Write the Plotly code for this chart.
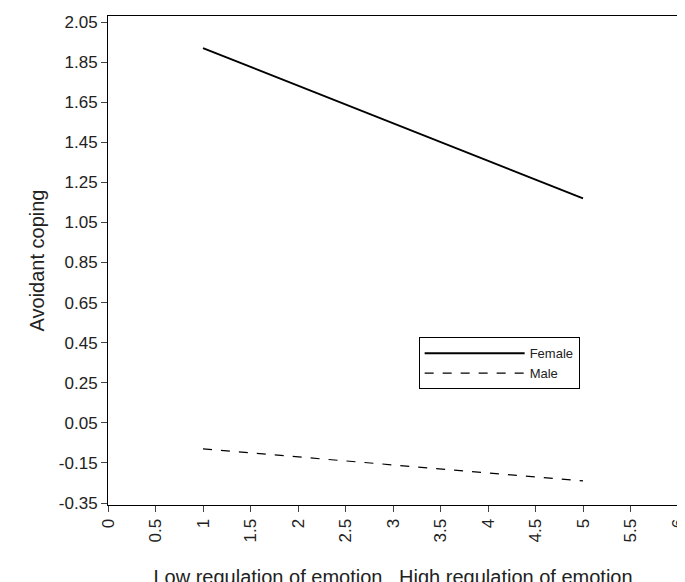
import plotly.graph_objects as go

x_vals = [1, 5]
female = [1.92, 1.17]
male = [-0.08, -0.24]
y_ticks = [-0.35 + 0.2 * i for i in range(13)]
x_ticks = [0, 0.5, 1, 1.5, 2, 2.5, 3, 3.5, 4, 4.5, 5, 5.5, 6]

fig = go.Figure()
fig.add_trace(go.Scatter(x=x_vals, y=female, mode="lines", name="Female",
                         line=dict(color="black", width=2)))
fig.add_trace(go.Scatter(x=x_vals, y=male, mode="lines", name="Male",
                         line=dict(color="black", width=1.2, dash="dash")))

fig.update_layout(
    width=685, height=582,
    margin=dict(l=100, r=10, t=5, b=85),
    paper_bgcolor="white", plot_bgcolor="white",
    font=dict(family="Liberation Sans, Arial", size=17, color="#222"),
    showlegend=True,
    legend=dict(x=0.545, y=0.343, xanchor="left", yanchor="top",
                bordercolor="black", borderwidth=1, bgcolor="white",
                font=dict(size=13), itemwidth=100,
                entrywidth=200, entrywidthmode="pixels",
                tracegroupgap=0),
)
fig.update_xaxes(range=[0, 6], tickvals=x_ticks, ticktext=[str(t) for t in x_ticks],
                 tickangle=-90, showgrid=False, zeroline=False,
                 showline=True, linecolor="black", mirror=True,
                 ticks="outside", ticklen=6,
                 title=dict(text="Low regulation of emotion   High regulation of emotion",
                            standoff=28))
fig.update_yaxes(range=[-0.36, 2.08], tickvals=y_ticks,
                 ticktext=[f"{t:.2f}" for t in y_ticks],
                 showgrid=False, zeroline=False,
                 showline=True, linecolor="black", mirror=True,
                 ticks="outside", ticklen=6,
                 title=dict(text="Avoidant coping", standoff=8))

fig.write_html("out.html")
